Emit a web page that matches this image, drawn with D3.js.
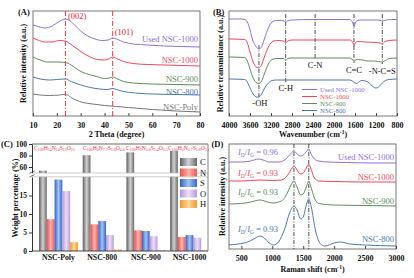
<!DOCTYPE html>
<html>
<head>
<meta charset="utf-8">
<script src="https://cdn.jsdelivr.net/npm/d3@7"></script>
<style>
body{margin:0;background:#fff;}
</style>
</head>
<body>
<script>
const FONT = '"Liberation Serif","Times New Roman",Times,serif';

// (A) XRD, 2theta vs offset intensity (a.u.)
const xrdSamples = ["Used NSC-1000","NSC-1000","NSC-900","NSC-800","NSC-Poly"];
const xrdUsed = [[10,91],[12,89.5],[15,88],[18,90],[21,94.5],[23.5,97],[25,96],[27,92],[30,85],[33,80],[36,77],[39,75.5],[41.5,76],[43.5,78],[45,77],[48,74],[52,72],[58,71],[65,70],[72,69.5],[80,69]];
const xrd1000 = [[10,78],[12,76],[15,74],[18,74],[21,75.5],[23.5,75],[25,73],[28,68],[31,63],[34,59],[37,56.5],[40,56],[42,57.5],[43.5,59],[45,57.5],[48,54.5],[52,52.5],[58,51.5],[65,51],[72,50.5],[80,50]];
const xrd900 = [[10,59],[13,56],[16,54],[20,54],[23.5,53.5],[26,51],[29,46],[32,42.5],[36,40],[40,37.5],[42,38],[43.5,39],[45,37.5],[48,34.5],[52,33],[60,32],[70,31.5],[80,31]];
const xrd800 = [[10,39],[13,37],[17,36],[20,36.5],[23.5,37],[26,34.5],[30,31],[34,28.5],[38,27],[41,26.5],[43.5,27.5],[45,26.5],[48,24.5],[53,23],[60,22],[70,21.5],[80,21]];
const xrdPoly = [[10,22],[13,21],[17,20.5],[21,21],[23,21.5],[24.5,21],[26,18.5],[28,16],[31,13.5],[35,12],[40,10.5],[45,9.5],[50,8.5],[60,6.5],[70,5],[80,4]];
const xrdTicks = [10,20,30,40,50,60,70,80];
const xrdPeaks = [23.6,43.4];
const xrdPeakLabels = ["(002)","(101)"];

// (B) FTIR, wavenumber vs offset transmittance (a.u.)
const ftirSamples = ["Used NSC-1000","NSC-1000","NSC-900","NSC-800"];
const ftirUsed = [[4000,97],[3800,97],[3700,96.5],[3650,94],[3600,86],[3550,76],[3480,69],[3430,67],[3380,69],[3320,78],[3250,88],[3180,94],[3100,95.5],[3000,95.5],[2950,95],[2920,94],[2890,95],[2800,96],[2400,96.5],[2000,96.5],[1700,96.5],[1660,95],[1630,91],[1615,89],[1600,92],[1570,95],[1500,96],[1200,96],[1100,95.5],[1080,94.5],[1050,95.5],[900,96.5],[800,96.5]];
const ftir1000 = [[4000,77],[3700,76.5],[3650,73],[3600,64],[3540,54],[3470,48.5],[3430,48],[3390,50],[3320,60],[3250,69],[3180,74],[3100,75.5],[2960,75],[2920,73],[2880,75],[2800,76],[2400,76],[1700,76],[1660,75],[1630,72],[1615,70],[1600,72.5],[1560,74.5],[1400,74],[1200,73.5],[1120,73],[1080,72],[1040,74],[950,75.5],[800,76]];
const ftir900 = [[4000,59],[3700,58.5],[3650,55],[3600,47],[3540,38],[3470,33],[3430,32.5],[3390,34],[3320,43],[3250,52],[3180,56.5],[3100,57.5],[2960,57.5],[2920,56],[2880,57.5],[2800,58],[2400,58],[1700,58],[1660,57],[1630,55],[1610,54.5],[1590,56],[1550,56.5],[1450,56],[1350,55],[1250,55],[1150,54.5],[1080,54],[1020,55.5],[950,57.5],[800,58]];
const ftir800 = [[4000,37],[3700,36.5],[3650,34],[3600,28],[3540,22],[3470,19],[3430,19],[3390,21],[3320,28],[3250,33],[3180,35.5],[3100,36],[2800,36],[2400,36],[1700,36],[1650,35],[1600,33],[1570,32.5],[1530,34],[1470,35.5],[1400,35],[1330,33],[1260,29.5],[1200,28],[1150,29],[1080,33],[1020,35.5],[950,36.5],[800,37]];
const ftirTicks = [4000,3600,3200,2800,2400,2000,1600,1200,800];
const ftirBands = [3430,2920,2360,1620,1080];
const ftirBandLabels = ["-OH","C-H","C-N","C=C","-N-C=S"];

// (C) elemental analysis, weight %
const eaGroups = ["NSC-Poly","NSC-800","NSC-900","NSC-1000"];
const eaElements = ["C","N","S","O","H"];
const wtC = [53.6,80.5,85.5,88.0];
const wtN = [8.6,7.2,5.6,3.8];
const wtS = [19.3,8.1,5.4,4.3];
const wtO = [16.2,4.3,4.0,3.6];
const wtH = [2.4,0.4,0.2,0.2];
const eaFormulas = [
  [["C","100"],["H","54"],["N","14"],["S","13"],["O","23"]],
  [["C","100"],["H","6"],["N","7.7"],["S","3.8"],["O","4.0"]],
  [["C","100"],["H","3"],["N","5.6"],["S","2.4"],["O","3.5"]],
  [["C","100"],["H","3"],["N","3.7"],["S","1.8"],["O","3.1"]]
];
const eaTicksLow = [0,5,10,15];
const eaTicksHigh = [60,80,100];

// (D) Raman, shift vs offset intensity (a.u.)
const ramanSamples = ["Used NSC-1000","NSC-1000","NSC-900","NSC-800"];
const ramanUsed = [[300,87],[500,87],[650,88],[780,90],[850,89],[950,87],[1100,87],[1200,89],[1280,94],[1350,98],[1400,95],[1450,93],[1500,94],[1560,98],[1590,100],[1620,96],[1680,90],[1750,88],[1900,87],[2200,86.5],[2600,86],[3000,86]];
const raman1000 = [[300,68],[500,68],[800,69],[1000,68.5],[1150,69],[1250,74],[1320,81],[1350,83],[1390,80],[1450,75],[1500,76],[1550,81],[1590,85],[1620,81],[1680,71],[1750,68],[2000,67.5],[2500,67],[3000,67]];
const raman900 = [[300,45],[500,45.5],[650,47],[800,49],[900,47.5],[1000,46],[1150,48],[1250,57],[1320,66],[1350,68],[1400,62],[1460,54],[1500,55],[1550,62],[1590,68],[1620,63],[1680,51],[1750,45.5],[2000,44],[2500,43.5],[3000,43]];
const raman800 = [[300,4],[450,5],[600,7],[700,10],[800,13],[870,11],[950,6],[1020,4],[1100,7],[1200,20],[1280,36],[1350,43],[1400,39],[1460,30],[1500,32],[1550,44],[1590,50],[1630,42],[1700,18],[1780,5],[1850,3],[2000,6],[2100,7],[2250,5],[2500,4],[3000,3]];
const ramanTicks = [500,1000,1500,2000,2500,3000];
const ramanBands = [1350,1590];
const ramanRatios = ["0.96","0.93","0.93","0.93"];

function main(){
    const svg = d3.select("body").append("svg")
        .attr("width",414).attr("height",278)
        .style("font-family",FONT);
    const defs = svg.append("defs");

    const colors = {"Used NSC-1000":"#8f6fd3","NSC-1000":"#f2445c","NSC-900":"#5e8c5c","NSC-800":"#4b79ab","NSC-Poly":"#767676"};

    const lineGen = (x,y) => d3.line().x(d => x(d[0])).y(d => y(d[1])).curve(d3.curveMonotoneX);

    function frame(x0,y0,x1,y1){
        svg.append("rect").attr("x",x0).attr("y",y0).attr("width",x1-x0).attr("height",y1-y0)
            .attr("fill","none").attr("stroke","#555").attr("stroke-width",0.8);
    }
    function xAxis(scale,ticks,y,pad){
        const ax = svg.append("g").attr("transform","translate(0,"+y+")")
            .call(d3.axisBottom(scale).tickValues(ticks).tickSize(-3).tickPadding(pad).tickFormat(d3.format("d")));
        ax.select(".domain").remove();
        ax.selectAll("line").attr("stroke","#444");
        ax.selectAll("text").attr("font-family",FONT).attr("font-size",8).attr("font-weight","bold").attr("fill","#111");
        return ax;
    }
    function text(x,y,str,size,color,anchor,weight){
        return svg.append("text").attr("x",x).attr("y",y).text(str)
            .attr("font-size",size).attr("fill",color||"#111")
            .attr("text-anchor",anchor||"start").attr("font-weight",weight||"normal");
    }
    function yTitle(x,cy,str){
        svg.append("text").attr("transform","translate("+x+","+cy+") rotate(-90)")
            .attr("text-anchor","middle").attr("font-size",8).attr("font-weight","bold").attr("fill","#111").text(str);
    }
    function cmTitle(cx,y,str){
        const t = svg.append("text").attr("x",cx).attr("y",y).attr("text-anchor","middle")
            .attr("font-size",8).attr("font-weight","bold").attr("fill","#111");
        t.append("tspan").text(str+" (cm");
        t.append("tspan").attr("font-size",5.5).attr("dy",-3).text("-1");
        t.append("tspan").attr("dy",3).text(")");
    }

    // ---------- (A)
    const xA = d3.scaleLinear().domain([10,80]).range([33,200]);
    const yA = d3.scaleLinear().domain([0,105]).range([116,11]);
    frame(33,11,200,116);
    xAxis(xA,xrdTicks,116,6);
    xrdPeaks.forEach(function(p){
        svg.append("line").attr("x1",xA(p)).attr("x2",xA(p)).attr("y1",11).attr("y2",116)
            .attr("stroke","#e8202a").attr("stroke-width",0.9).attr("stroke-dasharray","5,2,1,2");
    });
    text(xA(xrdPeaks[0])+2.5,19,xrdPeakLabels[0],8.5,"#e8202a");
    text(xA(xrdPeaks[1])+2,35,xrdPeakLabels[1],8.5,"#e8202a");
    [xrdUsed,xrd1000,xrd900,xrd800,xrdPoly].forEach(function(c,i){
        svg.append("path").attr("d",lineGen(xA,yA)(c)).attr("fill","none")
            .attr("stroke",colors[xrdSamples[i]]).attr("stroke-width",1);
    });
    const aLabelY = [42,63,82,94.5,110];
    xrdSamples.forEach(function(s,i){ text(198,aLabelY[i],s,8.5,colors[s],"end"); });
    text(18,15,"(A)",8.5,"#111","start","bold");
    yTitle(26,63.5,"Relative intensity (a.u.)");
    text(116.5,136.5,"2 Theta (degree)",8,"#111","middle","bold");

    // ---------- (B)
    const xB = d3.scaleLinear().domain([4000,800]).range([229,397]);
    const yB = d3.scaleLinear().domain([0,105]).range([116,11]);
    frame(229,11,397,116);
    xAxis(xB,ftirTicks,116,6);
    const bandTop = [45,14,14,14,14];
    const bandBot = [97,82,58,63,64];
    const bandLabelY = [106,91,68,73,74];
    ftirBands.forEach(function(w,i){
        svg.append("line").attr("x1",xB(w)).attr("x2",xB(w)).attr("y1",bandTop[i]).attr("y2",bandBot[i])
            .attr("stroke","#222").attr("stroke-width",0.8).attr("stroke-dasharray","4,1.5,1,1.5");
        text(xB(w)+(i===0?1:0),bandLabelY[i],ftirBandLabels[i],8.5,"#111","middle");
    });
    [ftirUsed,ftir1000,ftir900,ftir800].forEach(function(c,i){
        svg.append("path").attr("d",lineGen(xB,yB)(c)).attr("fill","none")
            .attr("stroke",colors[ftirSamples[i]]).attr("stroke-width",1);
    });
    ftirSamples.forEach(function(s,i){
        const cy = 89.5 + i*7;
        svg.append("line").attr("x1",302).attr("x2",317).attr("y1",cy).attr("y2",cy)
            .attr("stroke",colors[s]).attr("stroke-width",1);
        text(320,cy+2.3,s,6.8,colors[s]);
    });
    text(213,15,"(B)",8.5,"#111","start","bold");
    yTitle(223,63.5,"Relative transmittance (a.u.)");
    cmTitle(313,136.5,"Wavenumber");

    // ---------- (C)
    const cL = 32, cR = 208, cT = 144, cB = 251;
    const yLow = d3.scaleLinear().domain([0,20]).range([251,177]);
    const yUp = d3.scaleLinear().domain([50,100]).range([172.75,144]);
    const yC = v => v > 20 ? yUp(v) : yLow(v);
    const xC = d3.scaleBand().domain(eaGroups).range([35,213]).paddingInner(0.11).paddingOuter(0.092);
    const xE = d3.scaleBand().domain(eaElements).range([0,xC.bandwidth()]);
    const eaValues = {C:wtC,N:wtN,S:wtS,O:wtO,H:wtH};
    const grads = {
        C:["#5f5f5f","#d2d2d2","#6a6a6a"],
        N:["#e94f4f","#ffb3ad","#ec5a5a"],
        S:["#2f62c4","#a2c4f4","#3567c8"],
        O:["#b596d6","#ecdff7","#b99bd8"],
        H:["#f3962a","#ffd69c","#f39a30"]
    };
    eaElements.forEach(function(e){
        const g = defs.append("linearGradient").attr("id","grad-"+e).attr("x1",0).attr("x2",1).attr("y1",0).attr("y2",0);
        grads[e].forEach(function(c,k){ g.append("stop").attr("offset",k/2).attr("stop-color",c); });
    });
    defs.append("clipPath").attr("id","clipC").append("rect")
        .attr("x",cL).attr("y",cT).attr("width",cR-cL).attr("height",cB-cT);
    const barG = svg.append("g").attr("clip-path","url(#clipC)");
    eaGroups.forEach(function(g,gi){
        eaElements.forEach(function(e){
            const v = eaValues[e][gi];
            barG.append("rect").attr("x",xC(g)+xE(e)).attr("width",xE.bandwidth())
                .attr("y",yC(v)).attr("height",cB-yC(v)).attr("fill","url(#grad-"+e+")");
        });
    });
    // axis break band
    svg.append("rect").attr("x",cL+0.5).attr("y",173).attr("width",cR-cL-1).attr("height",3.8).attr("fill","#fff");
    [173,176.8].forEach(function(y){
        svg.append("line").attr("x1",cL).attr("x2",cR).attr("y1",y).attr("y2",y)
            .attr("stroke","#b8b8b8").attr("stroke-width",0.7);
    });
    svg.append("line").attr("x1",cL).attr("x2",cR).attr("y1",cT).attr("y2",cT).attr("stroke","#666").attr("stroke-width",1);
    svg.append("line").attr("x1",cL).attr("x2",cR).attr("y1",cB).attr("y2",cB).attr("stroke","#333").attr("stroke-width",0.9);
    svg.append("line").attr("x1",cR).attr("x2",cR).attr("y1",cT).attr("y2",cB).attr("stroke","#666").attr("stroke-width",0.8);
    [[yLow,eaTicksLow],[yUp,eaTicksHigh]].forEach(function(p){
        const ax = svg.append("g").attr("transform","translate("+cL+",0)")
            .call(d3.axisLeft(p[0]).tickValues(p[1]).tickSize(3).tickSizeOuter(0).tickPadding(2));
        ax.select(".domain").attr("stroke","#333");
        ax.selectAll("line").attr("stroke","#333");
        ax.selectAll("text").attr("font-family",FONT).attr("font-size",7.5).attr("font-weight","bold").attr("fill","#111");
    });
    [172.2,175.8].forEach(function(y){
        svg.append("line").attr("x1",cL-2.5).attr("x2",cL+2.5).attr("y1",y+1.2).attr("y2",y-1.2)
            .attr("stroke","#333").attr("stroke-width",0.7);
    });
    const gax = svg.append("g").attr("transform","translate(0,"+cB+")")
        .call(d3.axisBottom(xC).tickSize(0).tickPadding(3.5));
    gax.select(".domain").remove();
    gax.selectAll("text").attr("font-family",FONT).attr("font-size",7.8).attr("font-weight","bold").attr("fill","#111");
    const formulaX = [34,83,126,168];
    eaFormulas.forEach(function(f,i){
        const t = svg.append("text").attr("x",formulaX[i]).attr("y",150).attr("fill","#f0304c").attr("font-size",5.7);
        f.forEach(function(p,k){
            t.append("tspan").attr("dy",k === 0 ? 0 : -1.3).text(p[0]);
            t.append("tspan").attr("font-size",3.9).attr("dy",1.3).text(p[1]);
        });
    });
    eaElements.forEach(function(e,i){
        const cy = 162 + i*10.5;
        svg.append("rect").attr("x",180).attr("y",cy-4).attr("width",17).attr("height",8).attr("fill","url(#grad-"+e+")");
        text(200,cy+3,e,8.5,"#111");
    });
    text(1,147,"(C)",8.5,"#111","start","bold");
    yTitle(18,198,"Weight percentage (%)");

    // ---------- (D)
    const xD = d3.scaleLinear().domain([300,3000]).range([229,396]);
    const yD = d3.scaleLinear().domain([0,105]).range([249,144]);
    frame(229,144,396,249);
    xAxis(xD,ramanTicks,249,6.5);
    ramanBands.forEach(function(b){
        svg.append("line").attr("x1",xD(b)).attr("x2",xD(b)).attr("y1",144).attr("y2",249)
            .attr("stroke","#222").attr("stroke-width",0.8).attr("stroke-dasharray","4,1.5,1,1.5");
    });
    [ramanUsed,raman1000,raman900,raman800].forEach(function(c,i){
        svg.append("path").attr("d",lineGen(xD,yD)(c)).attr("fill","none")
            .attr("stroke",colors[ramanSamples[i]]).attr("stroke-width",1);
    });
    const dLabelY = [160,180,204,242];
    const dRatioY = [155,176,195,232];
    ramanSamples.forEach(function(s,i){
        text(394,dLabelY[i],s,8.5,colors[s],"end");
        const t = svg.append("text").attr("x",238).attr("y",dRatioY[i]).attr("font-size",8.5).attr("fill",colors[s]);
        t.append("tspan").attr("font-style","italic").text("I");
        t.append("tspan").attr("font-size",5.5).attr("dy",1.6).text("D");
        t.append("tspan").attr("dy",-1.6).text("/");
        t.append("tspan").attr("font-style","italic").text("I");
        t.append("tspan").attr("font-size",5.5).attr("dy",1.6).text("G");
        t.append("tspan").attr("dy",-1.6).text(" = "+ramanRatios[i]);
    });
    text(211.5,147,"(D)",8.5,"#111","start","bold");
    yTitle(225,196.5,"Relative intensity (a.u.)");
    cmTitle(312.5,272,"Raman shift");
}
main();
</script>
</body>
</html>
